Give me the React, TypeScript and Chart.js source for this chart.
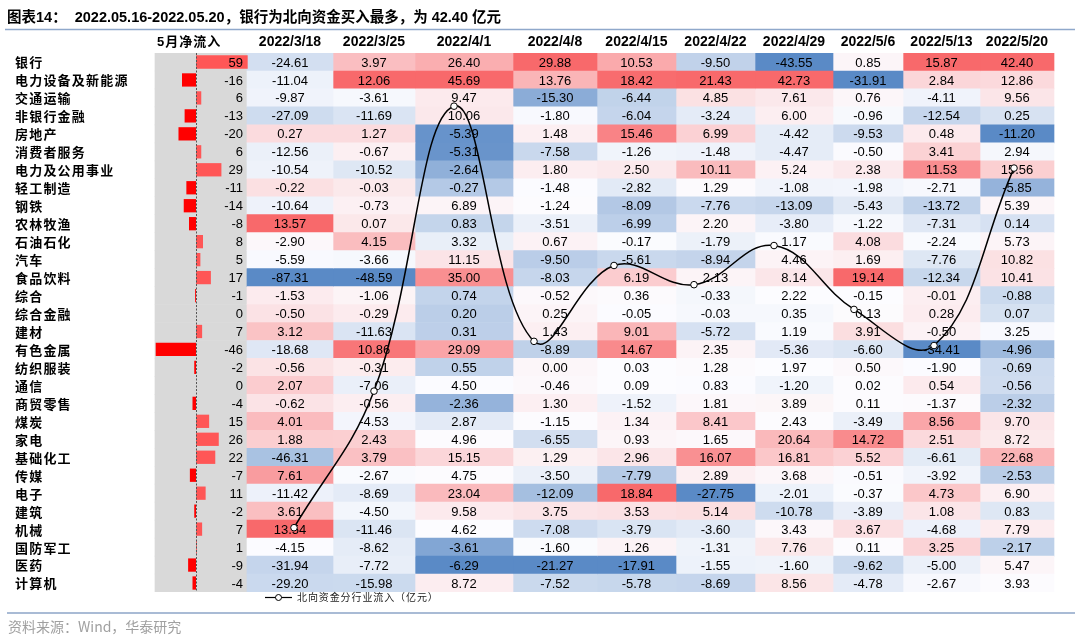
import React, { useEffect, useRef } from 'react';
import { Chart, registerables } from 'chart.js';

Chart.register(...registerables);

// ---------------- data ----------------
const industries = [
  '银行', '电力设备及新能源', '交通运输', '非银行金融', '房地产', '消费者服务', '电力及公用事业',
  '轻工制造', '钢铁', '农林牧渔', '石油石化', '汽车', '食品饮料', '综合', '综合金融', '建材',
  '有色金属', '纺织服装', '通信', '商贸零售', '煤炭', '家电', '基础化工', '传媒', '电子', '建筑',
  '机械', '国防军工', '医药', '计算机',
];

const weekLabels = [
  '2022/3/18', '2022/3/25', '2022/4/1', '2022/4/8', '2022/4/15',
  '2022/4/22', '2022/4/29', '2022/5/6', '2022/5/13', '2022/5/20',
];

const w0318 = [-24.61, -11.04, -9.87, -27.09, 0.27, -12.56, -10.54, -0.22, -10.64, 13.57, -2.90, -5.59, -87.31, -1.53, -0.50, 3.12, -18.68, -0.56, 2.07, -0.62, 4.01, 1.88, -46.31, 7.61, -11.42, 3.61, 13.54, -4.15, -31.94, -29.20];
const w0325 = [3.97, 12.06, -3.61, -11.69, 1.27, -0.67, -10.52, -0.03, -0.73, 0.07, 4.15, -3.66, -48.59, -1.06, -0.29, -11.63, 10.86, -0.31, -7.06, -0.56, -4.53, 2.43, 3.79, -2.67, -8.69, -4.50, -11.46, -8.62, -7.72, -15.98];
const w0401 = [26.40, 45.69, 9.47, 10.06, -5.39, -5.31, -2.64, -0.27, 6.89, 0.83, 3.32, 11.15, 35.00, 0.74, 0.20, 0.31, 29.09, 0.55, 4.50, -2.36, 2.87, 4.96, 15.15, 4.75, 23.04, 9.58, 4.62, -3.61, -6.29, 8.72];
const w0408 = [29.88, 13.76, -15.30, -1.80, 1.48, -7.58, 1.80, -1.48, -1.24, -3.51, 0.67, -9.50, -8.03, -0.52, 0.25, 1.43, -8.89, 0.00, -0.46, 1.30, -1.15, -6.55, 1.29, -3.50, -12.09, 3.75, -7.08, -1.60, -21.27, -7.52];
const w0415 = [10.53, 18.42, -6.44, -6.04, 15.46, -1.26, 2.50, -2.82, -8.09, -6.99, -0.17, -5.61, 6.19, 0.36, -0.05, 9.01, 14.67, 0.03, 0.09, -1.52, 1.34, 0.93, 2.96, -7.79, 18.84, 3.53, -3.79, 1.26, -17.91, -5.78];
const w0422 = [-9.50, 21.43, 4.85, -3.24, 6.99, -1.48, 10.11, 1.29, -7.76, 2.20, -1.79, -8.94, 2.13, -0.33, -0.03, -5.72, 2.35, 1.28, 0.83, 1.81, 8.41, 1.65, 16.07, 2.89, -27.75, 5.14, -3.60, -1.31, -1.55, -8.69];
const w0429 = [-43.55, 42.73, 7.61, 6.00, -4.42, -4.47, 5.24, -1.08, -13.09, -3.80, 1.17, 4.46, 8.14, 2.22, 0.35, 1.19, -5.36, 1.97, -1.20, 3.89, 2.43, 20.64, 16.81, 3.68, -2.01, -10.78, 3.43, 7.76, -1.60, 8.56];
const w0506 = [0.85, -31.91, 0.76, -0.96, -9.53, -0.50, 2.38, -1.98, -5.43, -1.22, 4.08, 1.69, 19.14, -0.15, 0.13, 3.91, -6.60, 0.50, 0.02, 0.11, -3.49, 14.72, 5.52, -0.51, -0.37, -3.89, 3.67, 0.11, -9.62, -4.78];
const w0513 = [15.87, 2.84, -4.11, -12.54, 0.48, 3.41, 11.53, -2.71, -13.72, -7.31, -2.24, -7.76, -12.34, -0.01, 0.28, -0.50, -34.41, -1.90, 0.54, -1.37, 8.56, 2.51, -6.61, -3.92, 4.73, 1.08, -4.68, 3.25, -5.00, -2.67];
const w0520 = [42.40, 12.86, 9.56, 0.25, -11.20, 2.94, 15.56, -5.85, 5.39, 0.14, 5.73, 10.82, 10.41, -0.88, 0.07, 3.25, -4.96, -0.69, -0.56, -2.32, 9.70, 8.72, 22.68, -2.53, 6.90, 0.83, 7.79, -2.17, 5.47, 3.93];

const weekColumns = [w0318, w0325, w0401, w0408, w0415, w0422, w0429, w0506, w0513, w0520];

const mayNet = [59, -16, 6, -13, -20, 6, 29, -11, -14, -8, 8, 5, 17, -1, 0, 7, -46, -2, 0, -4, 15, 26, 22, -7, 11, -2, 7, 1, -9, -4];

const weekTotal = [-297.60, -125.98, 232.02, -63.46, 31.86, 7.74, 56.92, -23.35, -68.72, 154.24];

const TITLE = '图表14：  2022.05.16-2022.05.20，银行为北向资金买入最多，为 42.40 亿元';
const SOURCE = '资料来源：Wind，华泰研究';
const LEGEND_TEXT = '北向资金分行业流入（亿元）';
const MAY_HEADER = '5月净流入';

// ---------------- layout / style ----------------
const W = 1080;
const H = 638;
const ROW_TOP = 53;
const ROW_BOTTOM = 592;
const COL_EDGES = [247, 333, 415, 513, 597, 676, 755, 833, 903, 980, 1054];
const GREY_LEFT = 155;
const BAR_ZERO_PX = 196;
const BAR_PX_PER_UNIT = 0.876;
const LINE_Y_MIN = -400;
const LINE_Y_MAX = 300;

const NUM_FONT = '13px "Liberation Sans", Arial, sans-serif';
const CJK = '"Noto Sans CJK SC", sans-serif';

const LOW = [0x5a, 0x8a, 0xc6];
const MID = [0xfc, 0xfc, 0xff];
const HIGH = [0xf8, 0x69, 0x6b];

function percentile(arr: number[], p: number) {
  const s = [...arr].sort((a, b) => a - b);
  const pos = (s.length - 1) * p;
  const lo = Math.floor(pos);
  const hi = Math.ceil(pos);
  return s[lo] + (s[hi] - s[lo]) * (pos - lo);
}

function makeScale(values: number[]) {
  const min = Math.min(...values);
  const max = Math.max(...values);
  const mid = percentile(values, 0.5);
  return (v: number) => {
    let c: number[];
    if (v >= mid) {
      const t = max === mid ? 0 : (v - mid) / (max - mid);
      c = MID.map((m, i) => m + (HIGH[i] - m) * t);
    } else {
      const t = mid === min ? 0 : (mid - v) / (mid - min);
      c = MID.map((m, i) => m + (LOW[i] - m) * t);
    }
    return `rgb(${c.map((x) => Math.round(x)).join(',')})`;
  };
}

const tablePlugin = {
  id: 'tableText',
  afterDatasetsDraw(chart: any) {
    const ctx = chart.ctx;
    const yS = chart.scales.y;
    const xBar = chart.scales.xBar;
    ctx.save();

    // dashed zero axis of data bars
    const zx = Math.round(xBar.getPixelForValue(0)) + 0.5;
    ctx.strokeStyle = '#555';
    ctx.lineWidth = 1;
    ctx.setLineDash([2, 1.5]);
    ctx.beginPath();
    ctx.moveTo(zx, ROW_TOP);
    ctx.lineTo(zx, ROW_BOTTOM);
    ctx.stroke();
    ctx.setLineDash([]);

    ctx.fillStyle = '#000';
    ctx.textBaseline = 'middle';

    // row labels
    ctx.font = `bold 13px ${CJK}`;
    (ctx as any).letterSpacing = '1.2px';
    ctx.textAlign = 'left';
    industries.forEach((name, j) => {
      ctx.fillText(name, 15, yS.getPixelForValue(j) + 0.5);
    });
    (ctx as any).letterSpacing = '0px';

    // may net labels
    ctx.font = NUM_FONT;
    ctx.textAlign = 'right';
    mayNet.forEach((v, j) => {
      ctx.fillText(String(v), COL_EDGES[0] - 4, yS.getPixelForValue(j) + 1);
    });

    // cell numbers
    ctx.textAlign = 'center';
    weekColumns.forEach((col, i) => {
      const meta = chart.getDatasetMeta(i + 2);
      meta.data.forEach((el: any, j: number) => {
        const p = el.getProps(['x', 'base', 'y'], true);
        ctx.fillText(col[j].toFixed(2), (p.x + p.base) / 2, p.y + 1);
      });
    });

    // header
    ctx.font = 'bold 14px "Liberation Sans", Arial, sans-serif';
    weekLabels.forEach((lab, i) => {
      ctx.fillText(lab, (COL_EDGES[i] + COL_EDGES[i + 1]) / 2, 42);
    });
    ctx.textAlign = 'left';
    ctx.font = `bold 13px "Liberation Sans", ${CJK}`;
    (ctx as any).letterSpacing = '1px';
    ctx.fillText(MAY_HEADER, 157, 42);
    (ctx as any).letterSpacing = '0px';

    // title
    ctx.font = `bold 14.5px "Liberation Sans", ${CJK}`;
    ctx.fillText(TITLE, 7, 18);
    ctx.strokeStyle = '#8FA8CB';
    ctx.lineWidth = 1.5;
    ctx.beginPath();
    ctx.moveTo(5, 29.5);
    ctx.lineTo(1075, 29.5);
    ctx.stroke();

    // footer
    ctx.strokeStyle = '#A9BBD5';
    ctx.lineWidth = 2;
    ctx.beginPath();
    ctx.moveTo(7, 613);
    ctx.lineTo(1075, 613);
    ctx.stroke();
    ctx.fillStyle = '#A0A0A0';
    ctx.font = `14px ${CJK}`;
    ctx.fillText(SOURCE, 8, 627);

    ctx.restore();
  },
};

const legendPlugin = {
  id: 'lineLegend',
  afterDraw(chart: any) {
    const ctx = chart.ctx;
    ctx.save();
    ctx.strokeStyle = '#000';
    ctx.lineWidth = 1.2;
    ctx.beginPath();
    ctx.moveTo(265, 597.5);
    ctx.lineTo(292, 597.5);
    ctx.stroke();
    ctx.beginPath();
    ctx.arc(278.5, 597.5, 3, 0, Math.PI * 2);
    ctx.fillStyle = '#fff';
    ctx.fill();
    ctx.lineWidth = 1;
    ctx.stroke();
    ctx.fillStyle = '#222';
    ctx.font = `10px ${CJK}`;
    (ctx as any).letterSpacing = '0.9px';
    ctx.textAlign = 'left';
    ctx.textBaseline = 'middle';
    ctx.fillText(LEGEND_TEXT, 297, 597.5);
    ctx.restore();
  },
};

export default function App() {
  const tableRef = useRef<HTMLCanvasElement | null>(null);
  const lineRef = useRef<HTMLCanvasElement | null>(null);

  useEffect(() => {
    document.body.style.margin = '0';
    document.body.style.background = '#fff';

    const scales = weekColumns.map((c) => makeScale(c));

    const cellDatasets = weekColumns.map((col, i) => ({
      type: 'bar' as const,
      label: weekLabels[i],
      data: col.map(() => [COL_EDGES[i], COL_EDGES[i + 1]]),
      xAxisID: 'x',
      yAxisID: 'y',
      grouped: false,
      barPercentage: 1,
      categoryPercentage: 1,
      borderWidth: 0,
      order: 5,
      backgroundColor: (ctx: any) => scales[i](col[ctx.dataIndex]),
    }));

    const table = new Chart(tableRef.current as HTMLCanvasElement, {
      type: 'bar',
      data: {
        labels: industries,
        datasets: [
          {
            label: '5月净流入',
            data: mayNet,
            xAxisID: 'xBar',
            yAxisID: 'y',
            grouped: false,
            barPercentage: 0.74,
            categoryPercentage: 1,
            order: 0,
            backgroundColor: (ctx: any) => (mayNet[ctx.dataIndex] >= 0 ? '#FF5656' : '#FF0000'),
          },
          {
            label: 'bg',
            data: mayNet.map(() => [GREY_LEFT, COL_EDGES[0]]),
            xAxisID: 'x',
            yAxisID: 'y',
            grouped: false,
            barPercentage: 1,
            categoryPercentage: 1,
            order: 10,
            backgroundColor: '#D9D9D9',
          },
          ...cellDatasets,
        ] as any,
      },
      options: {
        indexAxis: 'y',
        animation: false,
        responsive: false,
        events: [],
        layout: { padding: { top: ROW_TOP, bottom: H - ROW_BOTTOM, left: 0, right: 0 } },
        scales: {
          x: { type: 'linear', axis: 'x', min: 0, max: W, display: false },
          xBar: {
            type: 'linear',
            axis: 'x',
            min: -BAR_ZERO_PX / BAR_PX_PER_UNIT,
            max: (W - BAR_ZERO_PX) / BAR_PX_PER_UNIT,
            display: false,
          },
          y: { type: 'category', display: false, offset: true },
        },
        plugins: {
          legend: { display: false },
          tooltip: { enabled: false },
          title: { display: false },
        },
      } as any,
      plugins: [tablePlugin],
    });

    const line = new Chart(lineRef.current as HTMLCanvasElement, {
      type: 'line',
      data: {
        labels: weekLabels,
        datasets: [
          {
            label: LEGEND_TEXT,
            data: weekTotal,
            borderColor: '#000',
            borderWidth: 1.5,
            tension: 0.4,
            fill: false,
            pointRadius: 3.3,
            pointBackgroundColor: '#fff',
            pointBorderColor: '#000',
            pointBorderWidth: 1,
            clip: false as any,
          },
        ],
      },
      options: {
        animation: false,
        responsive: false,
        events: [],
        layout: {
          padding: {
            left: COL_EDGES[0] + 7,
            right: W - COL_EDGES[COL_EDGES.length - 1],
            top: 52.07,
            bottom: 28.8,
          },
        },
        scales: {
          x: { type: 'category', display: false, offset: true },
          y: { type: 'linear', display: false, min: LINE_Y_MIN, max: LINE_Y_MAX },
        },
        plugins: {
          legend: { display: false },
          tooltip: { enabled: false },
          title: { display: false },
        },
      } as any,
      plugins: [legendPlugin],
    });

    return () => {
      table.destroy();
      line.destroy();
    };
  }, []);

  return (
    <div style={{ position: 'relative', width: W, height: H, background: '#fff' }}>
      <canvas ref={tableRef} width={W} height={H} style={{ position: 'absolute', left: 0, top: 0 }} />
      <canvas ref={lineRef} width={W} height={H} style={{ position: 'absolute', left: 0, top: 0 }} />
    </div>
  );
}
